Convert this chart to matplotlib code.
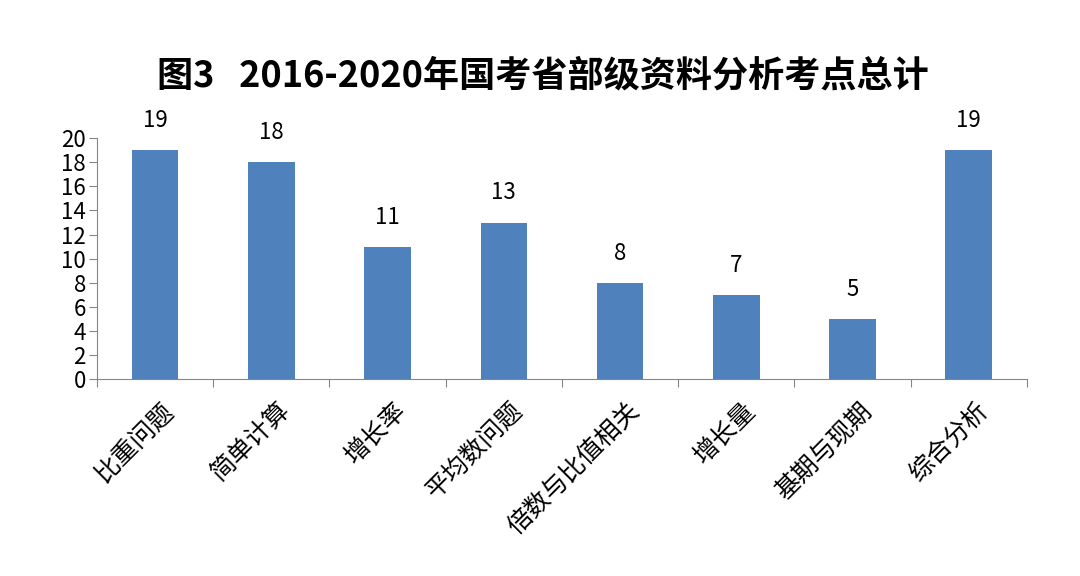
import matplotlib.pyplot as plt
import numpy as np

plt.rcParams['font.family'] = ['Noto Sans CJK SC', 'DejaVu Sans']

# data
categories = ["比重问题", "简单计算", "增长率", "平均数问题", "倍数与比值相关", "增长量", "基期与现期", "综合分析"]
counts = [19, 18, 11, 13, 8, 7, 5, 19]
y_ticks = list(range(0, 21, 2))

fig = plt.figure(figsize=(10.8, 5.76), dpi=100)
ax = fig.add_axes([0.0898, 0.342, 0.861, 0.418])

x = np.arange(len(categories))
ax.bar(x, counts, width=0.4, color="#4F81BD")

# value labels over bars
for xi, v in zip(x, counts):
    ax.text(xi, v + 1.5, str(v), ha="center", va="bottom", fontsize=16)

ax.set_xlim(-0.5, len(categories) - 0.5)
ax.set_ylim(0, 20)
ax.set_yticks(y_ticks)
ax.tick_params(axis="y", labelsize=16, length=6, color="#868686", pad=2)

# category ticks sit between bars, labels under bar centres
ax.set_xticks(np.arange(-0.5, len(categories), 1.0))
ax.set_xticklabels([])
ax.tick_params(axis="x", length=6, color="#868686")
for xi, name in zip(x, categories):
    ax.text(xi + 0.05, -1.5, name, rotation=45, ha="right", va="top",
            rotation_mode="anchor", fontsize=18)

for s in ["top", "right"]:
    ax.spines[s].set_visible(False)
for s in ["left", "bottom"]:
    ax.spines[s].set_color("#868686")

fig.text(0.503, 0.868, "图3   2016-2020年国考省部级资料分析考点总计",
         ha="center", va="center", fontsize=26, fontweight="bold")

fig.savefig("out.png", dpi=100)
